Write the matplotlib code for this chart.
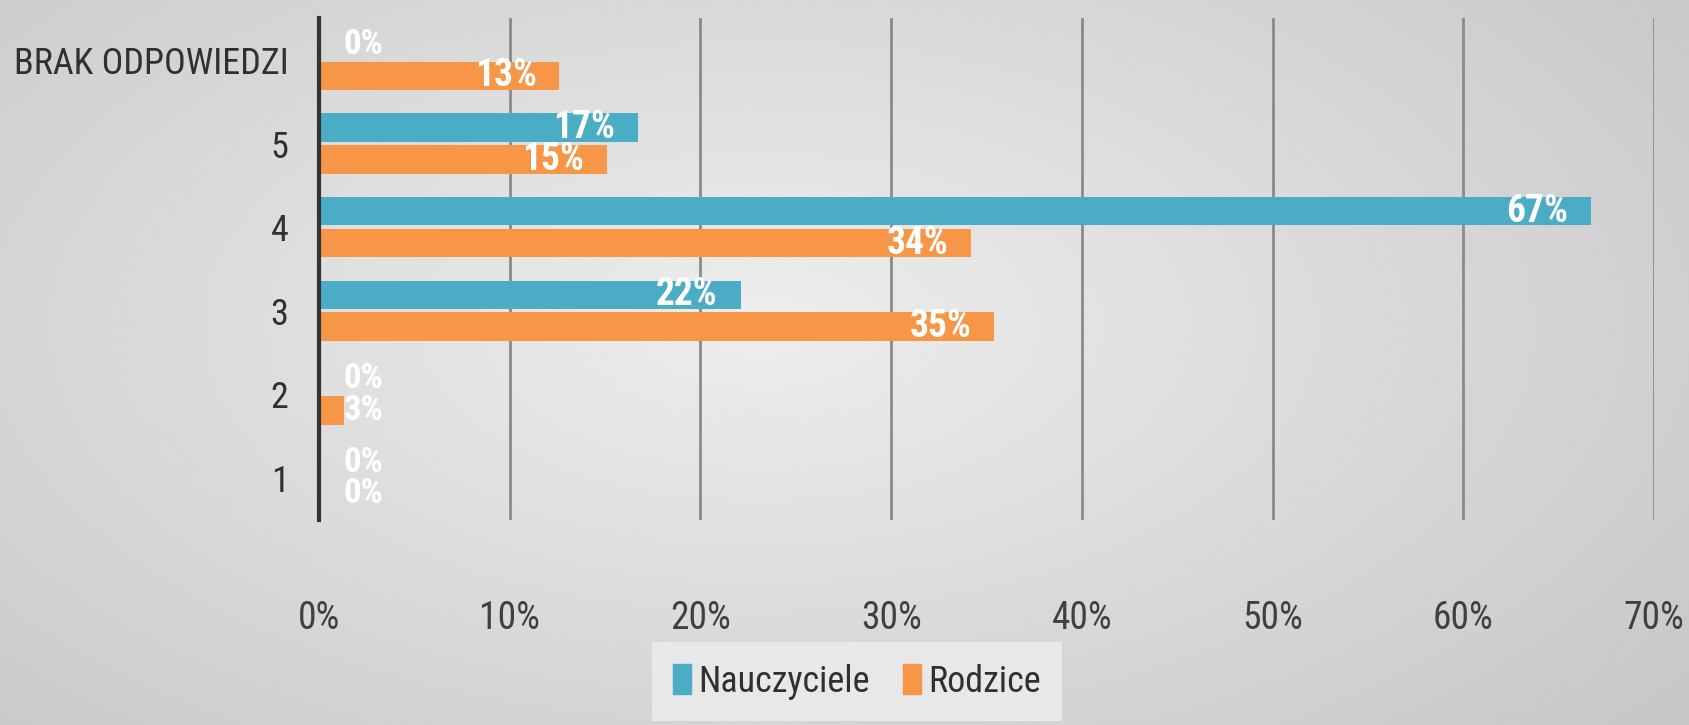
import numpy as np
import matplotlib
matplotlib.use("Agg")
import matplotlib.pyplot as plt
from matplotlib import font_manager
from matplotlib.patches import Patch

# data (percent)
categories = ["1", "2", "3", "4", "5", "BRAK ODPOWIEDZI"]
nauczyciele = [0, 0, 22.1, 66.7, 16.7, 0]
rodzice = [0, 1.3, 35.4, 34.2, 15.1, 12.6]
nauczyciele_labels = ["0%", "0%", "22%", "67%", "17%", "0%"]
rodzice_labels = ["0%", "3%", "35%", "34%", "15%", "13%"]
x_ticks = [0, 10, 20, 30, 40, 50, 60, 70]

BLUE = "#4bacc6"
ORANGE = "#f79646"

# narrow font if we have one, the original uses a condensed face
installed = {f.name for f in font_manager.fontManager.ttflist}
font = next((n for n in ["Liberation Sans Narrow", "Roboto Condensed", "Open Sans Condensed"]
             if n in installed), "DejaVu Sans")
plt.rcParams["font.family"] = [font, "DejaVu Sans"]

fig = plt.figure(figsize=(16.9, 7.25), dpi=100)

# radial grey background
bg = fig.add_axes([0, 0, 1, 1], zorder=-10)
yy, xx = np.mgrid[0:1:300j, 0:1:700j]
r = np.sqrt(((xx - 0.45) / 0.75) ** 2 + ((yy - 0.45) / 0.9) ** 2)
shade = np.clip(0.93 - 0.16 * r, 0.76, 0.93)
bg.imshow(shade, cmap="gray", vmin=0, vmax=1, aspect="auto", extent=[0, 1, 0, 1])
bg.axis("off")

ax = fig.add_axes([0.1888, 0.283, 0.9787 - 0.1888, 0.975 - 0.283])
ax.patch.set_alpha(0)

y = np.arange(len(categories))
h = 0.34
off = 0.19
ax.barh(y + off, nauczyciele, height=h, color=BLUE, zorder=3)
ax.barh(y - off, rodzice, height=h, color=ORANGE, zorder=3)

def put_labels(vals, labels, ypos):
    for v, lab, yp in zip(vals, labels, ypos):
        if v < 4:
            ax.text(1.3, yp, lab, ha="left", va="center", color="white",
                    fontsize=25, fontweight="bold", zorder=5)
        else:
            ax.text(v - 1.2, yp, lab, ha="right", va="center", color="white",
                    fontsize=27, fontweight="bold", zorder=5)

put_labels(nauczyciele, nauczyciele_labels, y + off)
put_labels(rodzice, rodzice_labels, y - off)

ax.set_xlim(0, 70)
ax.set_ylim(-0.5, len(categories) - 0.5)
ax.set_xticks(x_ticks)
ax.set_xticklabels([f"{t}%" for t in x_ticks])
ax.set_yticks(y)
ax.set_yticklabels(categories)
ax.tick_params(axis="x", length=0, pad=58, labelsize=27, labelcolor="#404040")
ax.tick_params(axis="y", length=0, pad=22, labelsize=26, labelcolor="#303030")

ax.grid(axis="x", color="#8a8a8a", linewidth=2, zorder=1)
for s in ["top", "right", "bottom"]:
    ax.spines[s].set_visible(False)
ax.spines["left"].set_color("#333333")
ax.spines["left"].set_linewidth(3)
ax.spines["left"].set_zorder(4)

handles = [Patch(color=BLUE, label="Nauczyciele"), Patch(color=ORANGE, label="Rodzice")]
leg = fig.legend(handles=handles, loc="lower center", bbox_to_anchor=(0.507, -0.02),
                 ncol=2, fontsize=26, frameon=True, fancybox=False,
                 facecolor="#e8e8e8", edgecolor="none", framealpha=1,
                 handlelength=0.5, handleheight=0.9, handletextpad=0.2,
                 columnspacing=0.9, borderpad=0.6)
for t in leg.get_texts():
    t.set_color("#303030")

fig.savefig("out.png", dpi=100)
